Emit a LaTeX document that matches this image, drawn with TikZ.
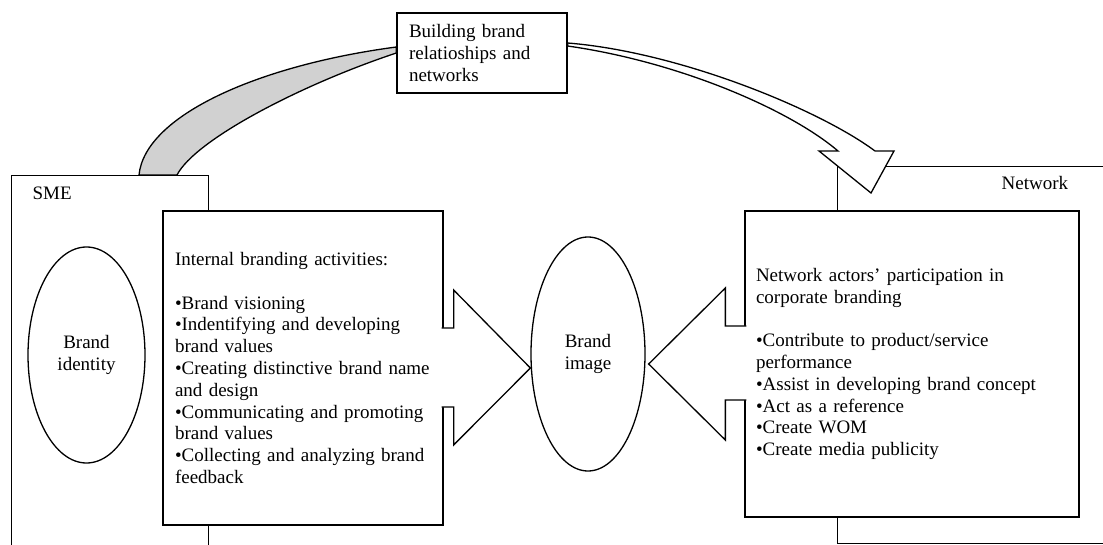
\documentclass[tikz,border=0pt]{standalone}
\usepackage{fontspec}
\setmainfont{Liberation Serif}
\usepackage{tikz}
\usetikzlibrary{shapes.geometric}
\usetikzlibrary{calc}
\tikzset{every picture/.style={
    line width=1.3pt
  }
}
\tikzset{
  frame/.style={draw, anchor=north west, inner sep=0},
  box/.style={draw, fill=white, align=left, font=\fontsize{19}{21.8}\selectfont},
  bubble/.style={draw, fill=white, ellipse, inner sep=0, align=center, font=\fontsize{19}{21.8}\selectfont},
  tag/.style={inner sep=0, font=\fontsize{19}{21.8}\selectfont},
  blockarrow/.style={draw, fill=white, line join=miter}
}

\begin{document}
\begin{tikzpicture}[x=1pt,y=-1pt]
            \useasboundingbox (0,0) rectangle (1103,545);
            \node[frame, minimum width=197, minimum height=400] (sme) at (11,175) {};
            \node[frame, minimum width=300, minimum height=377] (network) at (837,166) {};
            \node[box, text width=256, inner xsep=12, minimum height=314] (internal) at (303,368) {Internal branding activities:\\[21.8pt]•Brand visioning\\•Indentifying and developing\\brand values\\•Creating distinctive brand name\\and design\\•Communicating and promoting\\brand values\\•Collecting and analyzing brand\\feedback};
            \node[box, text width=312, inner xsep=11, minimum height=306] (actors) at (912,364) {Network actors’ participation in\\corporate branding\\[21.8pt]•Contribute to product/service\\performance\\•Assist in developing brand concept\\•Act as a reference\\•Create WOM\\•Create media publicity};
            \node[box, text width=146, inner xsep=12, minimum height=80] (build) at (482,53) {Building brand\\relatioships and\\networks};
            \node[bubble, minimum width=117, minimum height=216] (identity) at (86.5,355) {Brand\\identity};
            \node[bubble, minimum width=114, minimum height=234] (image) at (588,354) {Brand\\image};
            \node[tag, anchor=west] (smelabel) at (32,193) {SME};
            \node[tag, anchor=west] (networklabel) at (1001,183) {Network};
            \draw[blockarrow] ($(internal.east)+(-2,-40)$) -- ++(12,0) -- ++(0,-38) -- (internal.east -| image.west) -- ($(internal.east)+(10,77)$) -- ++(0,-38) -- ($(internal.east)+(-2,39)$);
            \draw[blockarrow] ($(actors.west)+(2,-38)$) -- ++(-21,0) -- ++(0,-38) -- ($(actors.west -| image.east)+(3,0)$) -- ($(actors.west)+(-19,76)$) -- ++(0,-40) -- ($(actors.west)+(2,36)$);
            \draw[fill=black!18] ($(sme.north west)+(128,0)$) .. controls (145,115) and (260,65) .. ($(build.west)+(0,-6)$) -- (build.west) .. controls (300,85) and (195,140) .. ($(sme.north west)+(166,0)$) -- cycle;
            \draw[blockarrow] ($(build.east)+(0,-10)$) .. controls (680,52) and (820,110) .. ($(network.north west)+(38,-15)$) -- ++(19,0) -- ($(network.north west)+(34,27)$) -- ($(network.north west)+(-18,-15)$) -- ++(19,0) .. controls (790,110) and (680,62) .. ($(build.east)+(0,-7)$) -- cycle;
          \end{tikzpicture}
\end{document}
